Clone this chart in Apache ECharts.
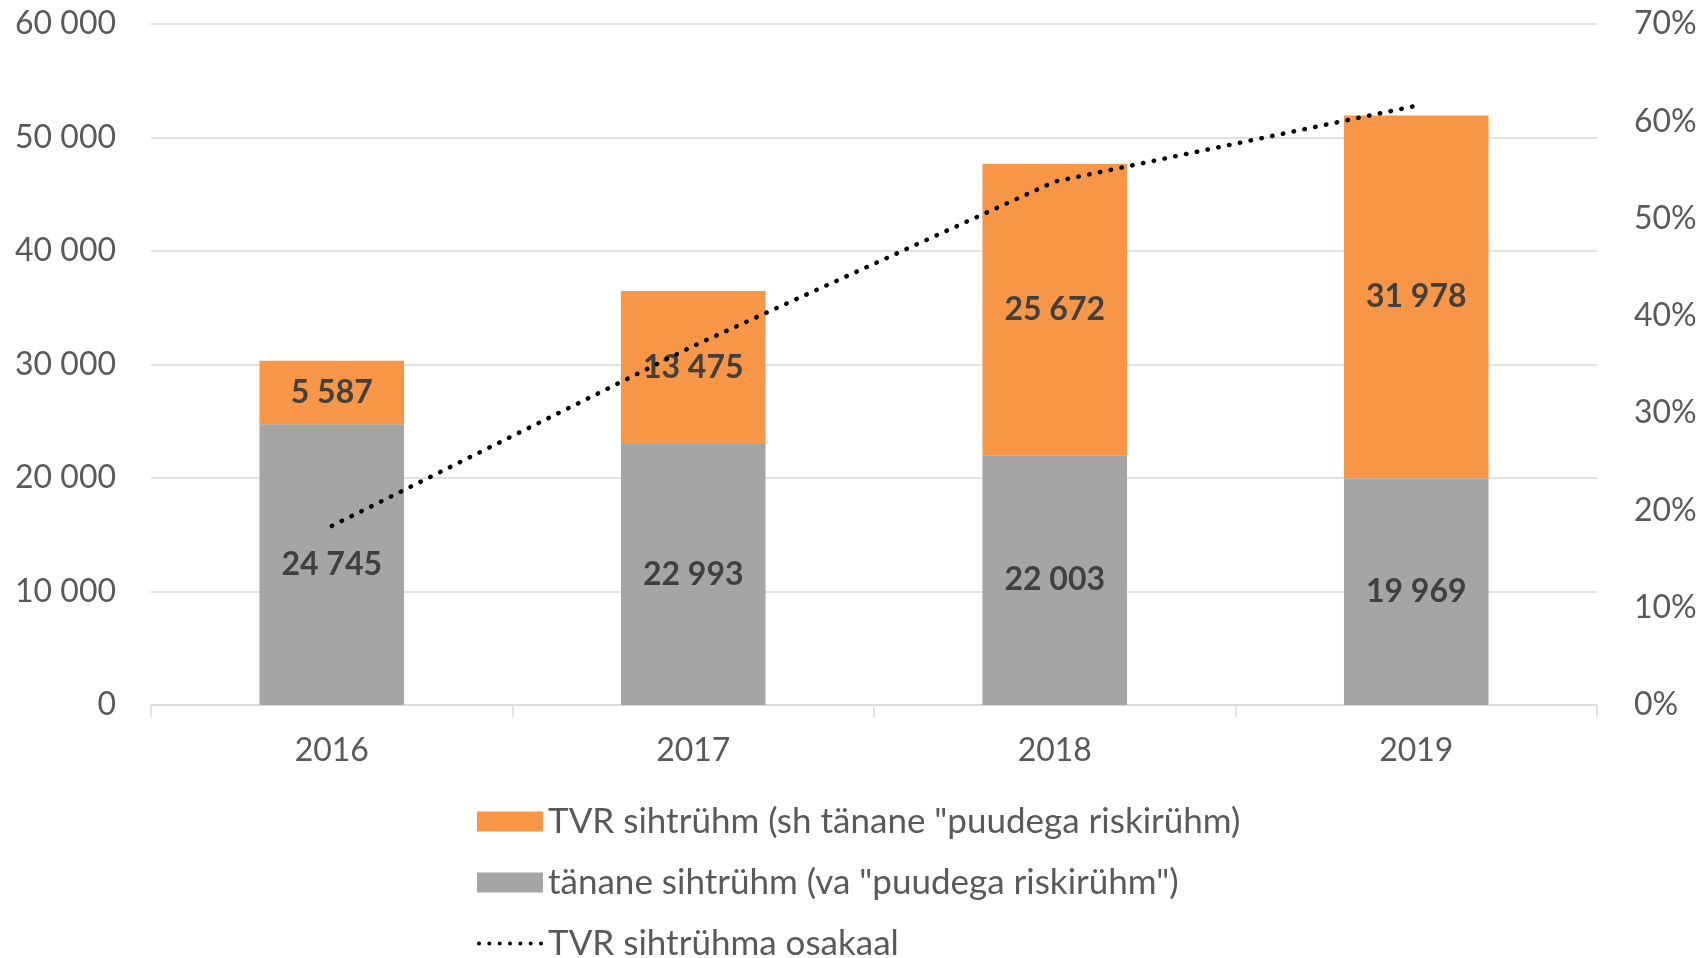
<!DOCTYPE html>
<html>
<head>
<meta charset="utf-8">
<script src="https://cdn.jsdelivr.net/npm/echarts@6/dist/echarts.min.js"></script>
<style>
  html, body { margin: 0; padding: 0; background: #fff; }
  #main { width: 1702px; height: 958px; }
</style>
</head>
<body>
<div id="main"></div>
<script>
var myChart = echarts.init(document.getElementById('main'));

// andmed
var years = ['2016', '2017', '2018', '2019'];
var tananeSihtruhm = [24745, 22993, 22003, 19969];
var tvrSihtruhm = [5587, 13475, 25672, 31978];
var tvrOsakaal = [18.4, 36.9, 53.8, 61.6];

var seriesNames = [
    'TVR sihtrühm (sh tänane "puudega riskirühm)',
    'tänane sihtrühm (va "puudega riskirühm")',
    'TVR sihtrühma osakaal'
];

var fontName = 'Lato';
var textColor = '#595959';

function spaced(v) {
    return String(v).replace(/\B(?=(\d{3})+(?!\d))/g, ' ');
}

// punktiirjoone ikoon legendi jaoks
var dotIcon = 'path://';
for (var i = 0; i < 7; i++) {
    var cx = 2 + i * 10.3;
    dotIcon += 'M' + (cx - 2) + ' 2a2 2 0 1 0 4 0a2 2 0 1 0 -4 0Z';
}

var barLabel = {
    show: true,
    position: 'inside',
    fontFamily: fontName,
    fontWeight: 'bold',
    fontSize: 32,
    color: '#404040',
    formatter: function (p) { return spaced(p.value); }
};

option = {
    backgroundColor: '#fff',
    animation: false,
    textStyle: { fontFamily: fontName },
    grid: {
        left: 151,
        right: 105,
        top: 24,
        bottom: 253
    },
    legend: {
        orient: 'vertical',
        left: 472,
        top: 799,
        height: 200,
        itemWidth: 66,
        itemHeight: 20,
        itemGap: 26,
        textStyle: {
            fontFamily: fontName,
            fontSize: 35,
            lineHeight: 32,
            color: textColor
        },
        data: [
            { name: seriesNames[0], icon: 'rect' },
            { name: seriesNames[1], icon: 'rect' },
            { name: seriesNames[2], icon: dotIcon }
        ]
    },
    xAxis: [
        {
            type: 'category',
            data: years,
            axisLine: { lineStyle: { color: '#D9D9D9', width: 1.5 } },
            axisTick: { show: true, length: 12, lineStyle: { color: '#D9D9D9', width: 1.5 } },
            axisLabel: {
                margin: 30,
                fontFamily: fontName,
                fontSize: 32,
                color: textColor
            }
        }
    ],
    yAxis: [
        {
            type: 'value',
            min: 0,
            max: 60000,
            interval: 10000,
            axisLine: { show: false },
            axisTick: { show: false },
            splitLine: { lineStyle: { color: '#D9D9D9', width: 1.5 } },
            axisLabel: {
                margin: 35,
                fontFamily: fontName,
                fontSize: 32,
                color: textColor,
                formatter: function (v) { return spaced(v); }
            }
        },
        {
            type: 'value',
            min: 0,
            max: 70,
            interval: 10,
            position: 'right',
            axisLine: { show: false },
            axisTick: { show: false },
            splitLine: { show: false },
            axisLabel: {
                margin: 37,
                fontFamily: fontName,
                fontSize: 32,
                color: textColor,
                formatter: '{value}%'
            }
        }
    ],
    series: [
        {
            name: seriesNames[1],
            type: 'bar',
            stack: 'kokku',
            barWidth: '40%',
            itemStyle: { color: '#A5A5A5' },
            label: barLabel,
            data: tananeSihtruhm
        },
        {
            name: seriesNames[0],
            type: 'bar',
            stack: 'kokku',
            barWidth: '40%',
            itemStyle: { color: '#F79646' },
            label: barLabel,
            data: tvrSihtruhm
        },
        {
            name: seriesNames[2],
            type: 'line',
            yAxisIndex: 1,
            symbol: 'none',
            itemStyle: { color: '#000' },
            lineStyle: {
                color: '#000',
                width: 4.5,
                type: [0.5, 10.5],
                cap: 'round'
            },
            data: tvrOsakaal
        }
    ]
};
myChart.setOption(option);
</script>
</body>
</html>
